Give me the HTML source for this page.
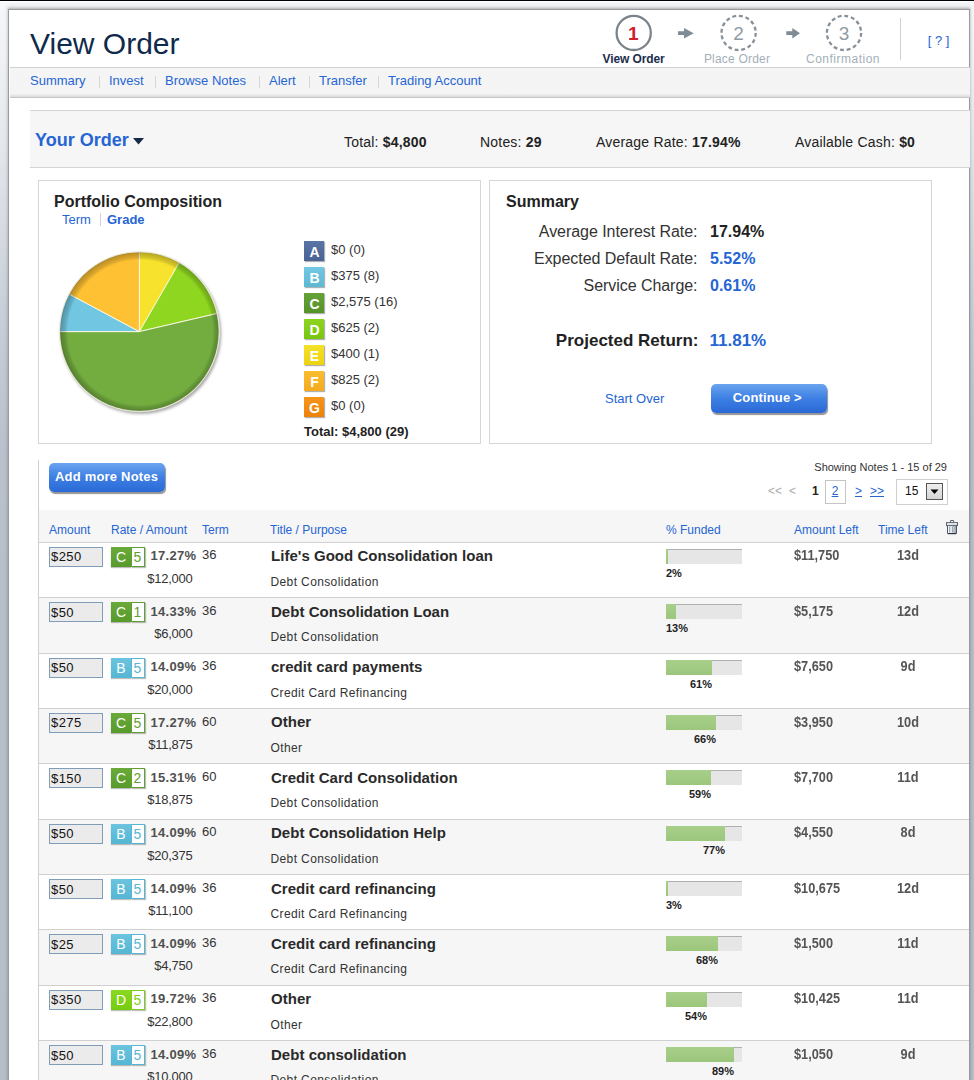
<!DOCTYPE html>
<html><head><meta charset="utf-8"><title>View Order</title>
<style>
html,body{margin:0;padding:0;}
body{width:974px;height:1080px;overflow:hidden;position:relative;font-family:"Liberation Sans", Arial, sans-serif;
background:linear-gradient(#000 0,#000 1px,#fff 1px,#fff 2px,#f6f7f9 2px,#eff1f4 60px,#e3e6eb 150px,#d3d8df 250px,#c7ced7 320px,#b9c2cd 440px,#b6bfca 600px,#b5bec9 1080px);}
.t{position:absolute;white-space:nowrap;}
.r{position:absolute;}
b{font-weight:bold;}
</style></head><body>
<div class="r" style="left:8px;top:9px;width:960px;height:1200px;background:#fff;border:1px solid #9a9a9a;box-shadow:0 -1px 2px 0 rgba(0,0,0,.22), 0 -2px 4px 1px rgba(0,0,0,.08);"></div>
<div class="t" style="top:29.00px;font-size:30px;line-height:30px;color:#0f2a4b;left:30px;">View Order</div>
<div class="r" style="left:10px;top:67px;width:960px;height:29px;border-top:1px solid #d0d0d0;background:linear-gradient(#f5f5f5,#f4f4f4 88%,#dcdcdc);box-shadow:0 1px 0 #c6c6c6;"></div>
<div class="t" style="top:74.00px;font-size:13px;line-height:13px;color:#2565d4;left:30px;">Summary</div>
<div class="t" style="top:74.00px;font-size:13px;line-height:13px;color:#2565d4;left:109px;">Invest</div>
<div class="t" style="top:74.00px;font-size:13px;line-height:13px;color:#2565d4;left:165px;">Browse Notes</div>
<div class="t" style="top:74.00px;font-size:13px;line-height:13px;color:#2565d4;left:269px;">Alert</div>
<div class="t" style="top:74.00px;font-size:13px;line-height:13px;color:#2565d4;left:319px;">Transfer</div>
<div class="t" style="top:74.00px;font-size:13px;line-height:13px;color:#2565d4;left:388px;">Trading Account</div>
<div class="r" style="left:99px;top:76px;width:1px;height:12px;background:#d6d6d6;"></div>
<div class="r" style="left:155px;top:76px;width:1px;height:12px;background:#d6d6d6;"></div>
<div class="r" style="left:259px;top:76px;width:1px;height:12px;background:#d6d6d6;"></div>
<div class="r" style="left:309px;top:76px;width:1px;height:12px;background:#d6d6d6;"></div>
<div class="r" style="left:378px;top:76px;width:1px;height:12px;background:#d6d6d6;"></div>
<div class="r" style="left:30px;top:110px;width:940px;height:56px;background:#f6f6f6;border-top:1px solid #d4d4d4;border-bottom:1px solid #d4d4d4;"></div>
<div class="t" style="top:131.00px;font-size:18px;line-height:18px;color:#2565d4;font-weight:bold;left:35px;">Your Order</div>
<svg class="r" style="left:133px;top:138px" width="11" height="7"><path d="M0 0H11L5.5 6.5Z" fill="#142a48"/></svg>
<div class="t" style="top:135.00px;font-size:14px;line-height:14px;color:#222;letter-spacing:0.2px;left:344px;">Total: <b>$4,800</b></div>
<div class="t" style="top:135.00px;font-size:14px;line-height:14px;color:#222;letter-spacing:0.2px;left:480px;">Notes: <b>29</b></div>
<div class="t" style="top:135.00px;font-size:14px;line-height:14px;color:#222;letter-spacing:0.2px;left:596px;">Average Rate: <b>17.94%</b></div>
<div class="t" style="top:135.00px;font-size:14px;line-height:14px;color:#222;letter-spacing:0.2px;left:795px;">Available Cash: <b>$0</b></div>
<div class="r" style="left:38px;top:180px;width:441px;height:262px;border:1px solid #d6d6d6;"></div>
<div class="t" style="top:194.00px;font-size:16px;line-height:16px;color:#222;font-weight:bold;left:54px;">Portfolio Composition</div>
<div class="t" style="top:213.00px;font-size:13px;line-height:13px;color:#2565d4;left:62px;">Term</div>
<div class="r" style="left:100px;top:213px;width:1px;height:13px;background:#d3d3d3;"></div>
<div class="t" style="top:213.00px;font-size:13px;line-height:13px;color:#2565d4;font-weight:bold;left:107px;">Grade</div>
<svg class="r" style="left:0;top:0" width="974" height="500">
<defs>
<radialGradient id="rim" cx="140.20000000000002" cy="332.40000000000003" r="80.3" gradientUnits="userSpaceOnUse">
<stop offset="0.90" stop-color="#000" stop-opacity="0"/>
<stop offset="0.935" stop-color="#000" stop-opacity="0.14"/>
<stop offset="0.975" stop-color="#000" stop-opacity="0.22"/>
<stop offset="1" stop-color="#000" stop-opacity="0.3"/>
</radialGradient>
<filter id="sh" x="-20%" y="-20%" width="140%" height="140%"><feGaussianBlur stdDeviation="1.6"/></filter>
</defs>
<circle cx="140.9" cy="333.6" r="80.2" fill="#000" opacity=".35" filter="url(#sh)"/>
<path d="M139.4,331.6 L139.40,251.90 A79.7,79.7 0 0 1 179.25,262.58 Z" fill="#f7e22e" stroke="#fffbe8" stroke-width="1" stroke-opacity=".9" stroke-linejoin="round"/><path d="M139.4,331.6 L179.25,262.58 A79.7,79.7 0 0 1 217.02,313.50 Z" fill="#8fd620" stroke="#fffbe8" stroke-width="1" stroke-opacity=".9" stroke-linejoin="round"/><path d="M139.4,331.6 L217.02,313.50 A79.7,79.7 0 1 1 59.70,331.60 Z" fill="#73ad3f" stroke="#fffbe8" stroke-width="1" stroke-opacity=".9" stroke-linejoin="round"/><path d="M139.4,331.6 L59.70,331.60 A79.7,79.7 0 0 1 69.11,294.03 Z" fill="#71c7e1" stroke="#fffbe8" stroke-width="1" stroke-opacity=".9" stroke-linejoin="round"/><path d="M139.4,331.6 L69.11,294.03 A79.7,79.7 0 0 1 139.40,251.90 Z" fill="#fec133" stroke="#fffbe8" stroke-width="1" stroke-opacity=".9" stroke-linejoin="round"/>
<circle cx="139.4" cy="331.6" r="79.7" fill="url(#rim)"/>
<circle cx="139.4" cy="331.6" r="80.0" fill="none" stroke="#e8ecd8" stroke-width=".8"/>
</svg>
<div class="r" style="left:304px;top:241px;width:20px;height:20px;background:linear-gradient(#5a74a6,#4a6394);box-shadow:1px 1px 1px rgba(0,0,0,.3);"></div>
<div class="t" style="top:245.00px;font-size:14px;line-height:14px;color:#fff;left:114.5px;width:400px;text-align:center;font-weight:600;">A</div>
<div class="t" style="top:243.00px;font-size:13px;line-height:13px;color:#333;left:331px;">$0 (0)</div>
<div class="r" style="left:304px;top:267px;width:20px;height:20px;background:linear-gradient(#74c8e2,#5cb8d5);box-shadow:1px 1px 1px rgba(0,0,0,.3);"></div>
<div class="t" style="top:271.00px;font-size:14px;line-height:14px;color:#fff;left:114.5px;width:400px;text-align:center;font-weight:600;">B</div>
<div class="t" style="top:269.00px;font-size:13px;line-height:13px;color:#333;left:331px;">$375 (8)</div>
<div class="r" style="left:304px;top:293px;width:20px;height:20px;background:linear-gradient(#65a338,#55922a);box-shadow:1px 1px 1px rgba(0,0,0,.3);"></div>
<div class="t" style="top:297.00px;font-size:14px;line-height:14px;color:#fff;left:114.5px;width:400px;text-align:center;font-weight:600;">C</div>
<div class="t" style="top:295.00px;font-size:13px;line-height:13px;color:#333;left:331px;">$2,575 (16)</div>
<div class="r" style="left:304px;top:319px;width:20px;height:20px;background:linear-gradient(#8dd420,#79c512);box-shadow:1px 1px 1px rgba(0,0,0,.3);"></div>
<div class="t" style="top:323.00px;font-size:14px;line-height:14px;color:#fff;left:114.5px;width:400px;text-align:center;font-weight:600;">D</div>
<div class="t" style="top:321.00px;font-size:13px;line-height:13px;color:#333;left:331px;">$625 (2)</div>
<div class="r" style="left:304px;top:345px;width:20px;height:20px;background:linear-gradient(#f4e12a,#ecd212);box-shadow:1px 1px 1px rgba(0,0,0,.3);"></div>
<div class="t" style="top:349.00px;font-size:14px;line-height:14px;color:#fff;left:114.5px;width:400px;text-align:center;font-weight:600;">E</div>
<div class="t" style="top:347.00px;font-size:13px;line-height:13px;color:#333;left:331px;">$400 (1)</div>
<div class="r" style="left:304px;top:371px;width:20px;height:20px;background:linear-gradient(#fbbd30,#f4aa1e);box-shadow:1px 1px 1px rgba(0,0,0,.3);"></div>
<div class="t" style="top:375.00px;font-size:14px;line-height:14px;color:#fff;left:114.5px;width:400px;text-align:center;font-weight:600;">F</div>
<div class="t" style="top:373.00px;font-size:13px;line-height:13px;color:#333;left:331px;">$825 (2)</div>
<div class="r" style="left:304px;top:397px;width:20px;height:20px;background:linear-gradient(#f7951a,#ec820a);box-shadow:1px 1px 1px rgba(0,0,0,.3);"></div>
<div class="t" style="top:401.00px;font-size:14px;line-height:14px;color:#fff;left:114.5px;width:400px;text-align:center;font-weight:600;">G</div>
<div class="t" style="top:399.00px;font-size:13px;line-height:13px;color:#333;left:331px;">$0 (0)</div>
<div class="t" style="top:425.00px;font-size:13px;line-height:13px;color:#222;font-weight:bold;left:304px;">Total: $4,800 (29)</div>
<div class="r" style="left:489px;top:180px;width:441px;height:262px;border:1px solid #d6d6d6;"></div>
<div class="t" style="top:194.00px;font-size:16px;line-height:16px;color:#222;font-weight:bold;left:506px;">Summary</div>
<div class="t" style="top:224.00px;font-size:16px;line-height:16px;color:#333;letter-spacing:-0.05px;right:276.5px;text-align:right;">Average Interest Rate:</div>
<div class="t" style="top:251.00px;font-size:16px;line-height:16px;color:#333;letter-spacing:-0.05px;right:276.5px;text-align:right;">Expected Default Rate:</div>
<div class="t" style="top:278.00px;font-size:16px;line-height:16px;color:#333;letter-spacing:-0.05px;right:276.5px;text-align:right;">Service Charge:</div>
<div class="t" style="top:224.00px;font-size:16px;line-height:16px;color:#222;font-weight:bold;left:710px;">17.94%</div>
<div class="t" style="top:251.00px;font-size:16px;line-height:16px;color:#2565d4;font-weight:bold;left:710px;">5.52%</div>
<div class="t" style="top:278.00px;font-size:16px;line-height:16px;color:#2565d4;font-weight:bold;left:710px;">0.61%</div>
<div class="t" style="top:332.00px;font-size:17px;line-height:17px;color:#222;font-weight:bold;right:275.5px;text-align:right;">Projected Return:</div>
<div class="t" style="top:332.00px;font-size:17px;line-height:17px;color:#2565d4;font-weight:bold;left:709.5px;">11.81%</div>
<div class="t" style="top:392.00px;font-size:13px;line-height:13px;color:#2565d4;left:605px;">Start Over</div>
<div class="r" style="left:711px;top:384px;width:116px;height:29px;border-radius:5px;background:linear-gradient(#6aa4ef,#3d7fe3 50%,#2a69d6);box-shadow:1px 2px 1px rgba(60,60,60,.55);"></div>
<div class="t" style="top:391.00px;font-size:13px;line-height:13px;color:#fff;font-weight:bold;letter-spacing:0.15px;left:567.3px;width:400px;text-align:center;">Continue &gt;</div>
<div class="r" style="left:38px;top:460px;width:1px;height:700px;background:#d0d0d0;"></div>
<div class="r" style="left:49px;top:463px;width:116px;height:29px;border-radius:5px;background:linear-gradient(#6aa4ef,#3d7fe3 50%,#2a69d6);box-shadow:1px 2px 1px rgba(60,60,60,.55);"></div>
<div class="t" style="top:470.00px;font-size:13px;line-height:13px;color:#fff;font-weight:bold;letter-spacing:0.2px;left:-93.4px;width:400px;text-align:center;">Add more Notes</div>
<div class="t" style="top:462.00px;font-size:11px;line-height:11px;color:#333;right:27px;text-align:right;">Showing Notes 1 - 15 of 29</div>
<div class="t" style="top:485.00px;font-size:12px;line-height:12px;color:#aaa;left:768px;">&lt;&lt;</div>
<div class="t" style="top:485.00px;font-size:12px;line-height:12px;color:#aaa;left:789px;">&lt;</div>
<div class="t" style="top:485.00px;font-size:12px;line-height:12px;color:#222;font-weight:bold;left:812px;">1</div>
<div class="r" style="left:825px;top:480px;width:19px;height:22px;border:1px solid #c4c4c4;"></div>
<div class="t" style="top:485.00px;font-size:12px;line-height:12px;color:#2565d4;left:635px;width:400px;text-align:center;"><u>2</u></div>
<div class="t" style="top:485.00px;font-size:12px;line-height:12px;color:#2565d4;left:855px;"><u>&gt;</u></div>
<div class="t" style="top:485.00px;font-size:12px;line-height:12px;color:#2565d4;left:870px;"><u>&gt;&gt;</u></div>
<div class="r" style="left:896px;top:479px;width:50px;height:24px;border:1px solid #cfcfcf;background:#fff;"></div>
<div class="t" style="top:485.00px;font-size:12px;line-height:12px;color:#111;left:905px;">15</div>
<div class="r" style="left:926px;top:483px;width:15px;height:15px;border:1px solid #555;background:linear-gradient(#eee,#d5d5d5);"></div>
<svg class="r" style="left:930px;top:489px" width="9" height="6"><path d="M0.5 0.5H8.5L4.5 5Z" fill="#000"/></svg>
<div class="r" style="left:39px;top:510px;width:930px;height:32px;background:#f6f6f6;border-bottom:1px solid #d0d0d0;"></div>
<div class="t" style="top:524.00px;font-size:12px;line-height:12px;color:#2565d4;left:49px;">Amount</div>
<div class="t" style="top:524.00px;font-size:12px;line-height:12px;color:#2565d4;left:111px;">Rate / Amount</div>
<div class="t" style="top:524.00px;font-size:12px;line-height:12px;color:#2565d4;left:202px;">Term</div>
<div class="t" style="top:524.00px;font-size:12px;line-height:12px;color:#2565d4;left:270px;">Title / Purpose</div>
<div class="t" style="top:524.00px;font-size:12px;line-height:12px;color:#2565d4;left:666px;">% Funded</div>
<div class="t" style="top:524.00px;font-size:12px;line-height:12px;color:#2565d4;left:794px;">Amount Left</div>
<div class="t" style="top:524.00px;font-size:12px;line-height:12px;color:#2565d4;left:878px;">Time Left</div>
<svg class="r" style="left:945px;top:519px" width="15" height="17" viewBox="0 0 15 17">
<defs><linearGradient id="tg" x1="0" x2="1"><stop offset="0" stop-color="#ffffff"/><stop offset=".5" stop-color="#e4e9f0"/><stop offset="1" stop-color="#8c96a2"/></linearGradient>
<linearGradient id="tl" x1="0" y1="0" x2="0" y2="1"><stop offset="0" stop-color="#ffffff"/><stop offset="1" stop-color="#c9d0d8"/></linearGradient></defs>
<path d="M5.6 3.2V1.5H8.6V3.2" fill="none" stroke="#5b636c" stroke-width="1"/>
<path d="M2.5 6.5V14.5H11.5V6.5" fill="url(#tg)" stroke="#4f5760" stroke-width="1"/>
<rect x="1.5" y="3.6" width="11" height="3" fill="url(#tl)" stroke="#5b636c" stroke-width="1"/>
<path d="M4.6 7.5V13.5M7.6 7.5V13.5" stroke="#9aa4b0" stroke-width="1.1"/>
<path d="M3 14.6H11" stroke="#2e343a" stroke-width="1.2"/>
</svg>
<div class="r" style="left:39px;top:543px;width:930px;height:54px;background:#fff;border-bottom:1px solid #d0d0d0;"></div>
<div class="r" style="left:49px;top:547px;width:52px;height:18px;border:1px solid #7f9db9;background:#ebebeb;"></div>
<div class="t" style="top:550.00px;font-size:13px;line-height:13px;color:#111;letter-spacing:0.4px;left:51px;">$250</div>
<div class="r" style="left:111px;top:547px;width:20px;height:20px;background:linear-gradient(#6aaa3a,#579a2b);box-shadow:0 1px 1px rgba(0,0,0,.25);"></div>
<div class="r" style="left:131px;top:547px;width:12px;height:18px;background:#fff;border:1px solid #5fa030;box-shadow:1px 1px 1px rgba(0,0,0,.25);"></div>
<div class="t" style="top:550.00px;font-size:14px;line-height:14px;color:#fff;left:-79px;width:400px;text-align:center;">C</div>
<div class="t" style="top:550.00px;font-size:14px;line-height:14px;color:#5fa030;left:-62.5px;width:400px;text-align:center;">5</div>
<div class="t" style="top:549.00px;font-size:13px;line-height:13px;color:#505050;font-weight:bold;letter-spacing:0.3px;left:150.5px;">17.27%</div>
<div class="t" style="top:572.00px;font-size:13px;line-height:13px;color:#333;letter-spacing:-0.25px;right:781.5px;text-align:right;">$12,000</div>
<div class="t" style="top:548.00px;font-size:13px;line-height:13px;color:#333;left:202px;">36</div>
<div class="t" style="top:548.00px;font-size:15px;line-height:15px;color:#2a2a2a;font-weight:bold;letter-spacing:0.03px;left:271px;">Life's Good Consolidation loan</div>
<div class="t" style="top:576.00px;font-size:12px;line-height:12px;color:#333;letter-spacing:0.38px;left:270.5px;">Debt Consolidation</div>
<div class="r" style="left:666px;top:549px;width:76px;height:15px;background:#e6e6e6;border-top:1px solid #b0b0b0;box-sizing:border-box;"></div>
<div class="r" style="left:666px;top:549px;width:2px;height:15px;background:linear-gradient(#a8cf8a,#9cc67c);"></div>
<div class="t" style="top:568.00px;font-size:11px;line-height:11px;color:#222;font-weight:bold;left:666px;">2%</div>
<div class="t" style="top:548.00px;font-size:14px;line-height:14px;color:#555;font-weight:bold;transform:scaleX(0.91);transform-origin:left center;left:794px;">$11,750</div>
<div class="t" style="top:548.00px;font-size:14px;line-height:14px;color:#555;font-weight:bold;transform:scaleX(0.91);transform-origin:center center;left:708px;width:400px;text-align:center;">13d</div>
<div class="r" style="left:39px;top:598px;width:930px;height:55px;background:#f6f6f6;border-bottom:1px solid #d0d0d0;"></div>
<div class="r" style="left:49px;top:602px;width:52px;height:18px;border:1px solid #7f9db9;background:#ebebeb;"></div>
<div class="t" style="top:606.00px;font-size:13px;line-height:13px;color:#111;letter-spacing:0.4px;left:51px;">$50</div>
<div class="r" style="left:111px;top:602px;width:20px;height:20px;background:linear-gradient(#6aaa3a,#579a2b);box-shadow:0 1px 1px rgba(0,0,0,.25);"></div>
<div class="r" style="left:131px;top:602px;width:12px;height:18px;background:#fff;border:1px solid #5fa030;box-shadow:1px 1px 1px rgba(0,0,0,.25);"></div>
<div class="t" style="top:605.00px;font-size:14px;line-height:14px;color:#fff;left:-79px;width:400px;text-align:center;">C</div>
<div class="t" style="top:605.00px;font-size:14px;line-height:14px;color:#5fa030;left:-62.5px;width:400px;text-align:center;">1</div>
<div class="t" style="top:605.00px;font-size:13px;line-height:13px;color:#505050;font-weight:bold;letter-spacing:0.3px;left:150.5px;">14.33%</div>
<div class="t" style="top:627.00px;font-size:13px;line-height:13px;color:#333;letter-spacing:-0.25px;right:781.5px;text-align:right;">$6,000</div>
<div class="t" style="top:604.00px;font-size:13px;line-height:13px;color:#333;left:202px;">36</div>
<div class="t" style="top:604.00px;font-size:15px;line-height:15px;color:#2a2a2a;font-weight:bold;letter-spacing:0.03px;left:271px;">Debt Consolidation Loan</div>
<div class="t" style="top:631.00px;font-size:12px;line-height:12px;color:#333;letter-spacing:0.38px;left:270.5px;">Debt Consolidation</div>
<div class="r" style="left:666px;top:604px;width:76px;height:15px;background:#e6e6e6;border-top:1px solid #b0b0b0;box-sizing:border-box;"></div>
<div class="r" style="left:666px;top:604px;width:10px;height:15px;background:linear-gradient(#a8cf8a,#9cc67c);"></div>
<div class="t" style="top:623.00px;font-size:11px;line-height:11px;color:#222;font-weight:bold;left:666px;">13%</div>
<div class="t" style="top:604.00px;font-size:14px;line-height:14px;color:#555;font-weight:bold;transform:scaleX(0.91);transform-origin:left center;left:794px;">$5,175</div>
<div class="t" style="top:604.00px;font-size:14px;line-height:14px;color:#555;font-weight:bold;transform:scaleX(0.91);transform-origin:center center;left:708px;width:400px;text-align:center;">12d</div>
<div class="r" style="left:39px;top:654px;width:930px;height:54px;background:#fff;border-bottom:1px solid #d0d0d0;"></div>
<div class="r" style="left:49px;top:658px;width:52px;height:18px;border:1px solid #7f9db9;background:#ebebeb;"></div>
<div class="t" style="top:661.00px;font-size:13px;line-height:13px;color:#111;letter-spacing:0.4px;left:51px;">$50</div>
<div class="r" style="left:111px;top:658px;width:20px;height:20px;background:linear-gradient(#6cc4de,#55b6d3);box-shadow:0 1px 1px rgba(0,0,0,.25);"></div>
<div class="r" style="left:131px;top:658px;width:12px;height:18px;background:#fff;border:1px solid #55b7d4;box-shadow:1px 1px 1px rgba(0,0,0,.25);"></div>
<div class="t" style="top:661.00px;font-size:14px;line-height:14px;color:#fff;left:-79px;width:400px;text-align:center;">B</div>
<div class="t" style="top:661.00px;font-size:14px;line-height:14px;color:#55b7d4;left:-62.5px;width:400px;text-align:center;">5</div>
<div class="t" style="top:660.00px;font-size:13px;line-height:13px;color:#505050;font-weight:bold;letter-spacing:0.3px;left:150.5px;">14.09%</div>
<div class="t" style="top:683.00px;font-size:13px;line-height:13px;color:#333;letter-spacing:-0.25px;right:781.5px;text-align:right;">$20,000</div>
<div class="t" style="top:659.00px;font-size:13px;line-height:13px;color:#333;left:202px;">36</div>
<div class="t" style="top:659.00px;font-size:15px;line-height:15px;color:#2a2a2a;font-weight:bold;letter-spacing:0.03px;left:271px;">credit card payments</div>
<div class="t" style="top:687.00px;font-size:12px;line-height:12px;color:#333;letter-spacing:0.38px;left:270.5px;">Credit Card Refinancing</div>
<div class="r" style="left:666px;top:660px;width:76px;height:15px;background:#e6e6e6;border-top:1px solid #b0b0b0;box-sizing:border-box;"></div>
<div class="r" style="left:666px;top:660px;width:46px;height:15px;background:linear-gradient(#a8cf8a,#9cc67c);"></div>
<div class="t" style="top:679.00px;font-size:11px;line-height:11px;color:#222;font-weight:bold;left:689.96875px;">61%</div>
<div class="t" style="top:659.00px;font-size:14px;line-height:14px;color:#555;font-weight:bold;transform:scaleX(0.91);transform-origin:left center;left:794px;">$7,650</div>
<div class="t" style="top:659.00px;font-size:14px;line-height:14px;color:#555;font-weight:bold;transform:scaleX(0.91);transform-origin:center center;left:708px;width:400px;text-align:center;">9d</div>
<div class="r" style="left:39px;top:709px;width:930px;height:54px;background:#f6f6f6;border-bottom:1px solid #d0d0d0;"></div>
<div class="r" style="left:49px;top:713px;width:52px;height:18px;border:1px solid #7f9db9;background:#ebebeb;"></div>
<div class="t" style="top:716.00px;font-size:13px;line-height:13px;color:#111;letter-spacing:0.4px;left:51px;">$275</div>
<div class="r" style="left:111px;top:713px;width:20px;height:20px;background:linear-gradient(#6aaa3a,#579a2b);box-shadow:0 1px 1px rgba(0,0,0,.25);"></div>
<div class="r" style="left:131px;top:713px;width:12px;height:18px;background:#fff;border:1px solid #5fa030;box-shadow:1px 1px 1px rgba(0,0,0,.25);"></div>
<div class="t" style="top:716.00px;font-size:14px;line-height:14px;color:#fff;left:-79px;width:400px;text-align:center;">C</div>
<div class="t" style="top:716.00px;font-size:14px;line-height:14px;color:#5fa030;left:-62.5px;width:400px;text-align:center;">5</div>
<div class="t" style="top:716.00px;font-size:13px;line-height:13px;color:#505050;font-weight:bold;letter-spacing:0.3px;left:150.5px;">17.27%</div>
<div class="t" style="top:738.00px;font-size:13px;line-height:13px;color:#333;letter-spacing:-0.25px;right:781.5px;text-align:right;">$11,875</div>
<div class="t" style="top:715.00px;font-size:13px;line-height:13px;color:#333;left:202px;">60</div>
<div class="t" style="top:714.00px;font-size:15px;line-height:15px;color:#2a2a2a;font-weight:bold;letter-spacing:0.03px;left:271px;">Other</div>
<div class="t" style="top:742.00px;font-size:12px;line-height:12px;color:#333;letter-spacing:0.38px;left:270.5px;">Other</div>
<div class="r" style="left:666px;top:715px;width:76px;height:15px;background:#e6e6e6;border-top:1px solid #b0b0b0;box-sizing:border-box;"></div>
<div class="r" style="left:666px;top:715px;width:50px;height:15px;background:linear-gradient(#a8cf8a,#9cc67c);"></div>
<div class="t" style="top:734.00px;font-size:11px;line-height:11px;color:#222;font-weight:bold;left:693.96875px;">66%</div>
<div class="t" style="top:715.00px;font-size:14px;line-height:14px;color:#555;font-weight:bold;transform:scaleX(0.91);transform-origin:left center;left:794px;">$3,950</div>
<div class="t" style="top:715.00px;font-size:14px;line-height:14px;color:#555;font-weight:bold;transform:scaleX(0.91);transform-origin:center center;left:708px;width:400px;text-align:center;">10d</div>
<div class="r" style="left:39px;top:764px;width:930px;height:55px;background:#fff;border-bottom:1px solid #d0d0d0;"></div>
<div class="r" style="left:49px;top:768px;width:52px;height:18px;border:1px solid #7f9db9;background:#ebebeb;"></div>
<div class="t" style="top:772.00px;font-size:13px;line-height:13px;color:#111;letter-spacing:0.4px;left:51px;">$150</div>
<div class="r" style="left:111px;top:768px;width:20px;height:20px;background:linear-gradient(#6aaa3a,#579a2b);box-shadow:0 1px 1px rgba(0,0,0,.25);"></div>
<div class="r" style="left:131px;top:768px;width:12px;height:18px;background:#fff;border:1px solid #5fa030;box-shadow:1px 1px 1px rgba(0,0,0,.25);"></div>
<div class="t" style="top:771.00px;font-size:14px;line-height:14px;color:#fff;left:-79px;width:400px;text-align:center;">C</div>
<div class="t" style="top:771.00px;font-size:14px;line-height:14px;color:#5fa030;left:-62.5px;width:400px;text-align:center;">2</div>
<div class="t" style="top:771.00px;font-size:13px;line-height:13px;color:#505050;font-weight:bold;letter-spacing:0.3px;left:150.5px;">15.31%</div>
<div class="t" style="top:793.00px;font-size:13px;line-height:13px;color:#333;letter-spacing:-0.25px;right:781.5px;text-align:right;">$18,875</div>
<div class="t" style="top:770.00px;font-size:13px;line-height:13px;color:#333;left:202px;">60</div>
<div class="t" style="top:770.00px;font-size:15px;line-height:15px;color:#2a2a2a;font-weight:bold;letter-spacing:0.03px;left:271px;">Credit Card Consolidation</div>
<div class="t" style="top:797.00px;font-size:12px;line-height:12px;color:#333;letter-spacing:0.38px;left:270.5px;">Debt Consolidation</div>
<div class="r" style="left:666px;top:770px;width:76px;height:15px;background:#e6e6e6;border-top:1px solid #b0b0b0;box-sizing:border-box;"></div>
<div class="r" style="left:666px;top:770px;width:45px;height:15px;background:linear-gradient(#a8cf8a,#9cc67c);"></div>
<div class="t" style="top:789.00px;font-size:11px;line-height:11px;color:#222;font-weight:bold;left:688.96875px;">59%</div>
<div class="t" style="top:770.00px;font-size:14px;line-height:14px;color:#555;font-weight:bold;transform:scaleX(0.91);transform-origin:left center;left:794px;">$7,700</div>
<div class="t" style="top:770.00px;font-size:14px;line-height:14px;color:#555;font-weight:bold;transform:scaleX(0.91);transform-origin:center center;left:708px;width:400px;text-align:center;">11d</div>
<div class="r" style="left:39px;top:820px;width:930px;height:54px;background:#f6f6f6;border-bottom:1px solid #d0d0d0;"></div>
<div class="r" style="left:49px;top:824px;width:52px;height:18px;border:1px solid #7f9db9;background:#ebebeb;"></div>
<div class="t" style="top:827.00px;font-size:13px;line-height:13px;color:#111;letter-spacing:0.4px;left:51px;">$50</div>
<div class="r" style="left:111px;top:824px;width:20px;height:20px;background:linear-gradient(#6cc4de,#55b6d3);box-shadow:0 1px 1px rgba(0,0,0,.25);"></div>
<div class="r" style="left:131px;top:824px;width:12px;height:18px;background:#fff;border:1px solid #55b7d4;box-shadow:1px 1px 1px rgba(0,0,0,.25);"></div>
<div class="t" style="top:827.00px;font-size:14px;line-height:14px;color:#fff;left:-79px;width:400px;text-align:center;">B</div>
<div class="t" style="top:827.00px;font-size:14px;line-height:14px;color:#55b7d4;left:-62.5px;width:400px;text-align:center;">5</div>
<div class="t" style="top:826.00px;font-size:13px;line-height:13px;color:#505050;font-weight:bold;letter-spacing:0.3px;left:150.5px;">14.09%</div>
<div class="t" style="top:849.00px;font-size:13px;line-height:13px;color:#333;letter-spacing:-0.25px;right:781.5px;text-align:right;">$20,375</div>
<div class="t" style="top:825.00px;font-size:13px;line-height:13px;color:#333;left:202px;">60</div>
<div class="t" style="top:825.00px;font-size:15px;line-height:15px;color:#2a2a2a;font-weight:bold;letter-spacing:0.03px;left:271px;">Debt Consolidation Help</div>
<div class="t" style="top:853.00px;font-size:12px;line-height:12px;color:#333;letter-spacing:0.38px;left:270.5px;">Debt Consolidation</div>
<div class="r" style="left:666px;top:826px;width:76px;height:15px;background:#e6e6e6;border-top:1px solid #b0b0b0;box-sizing:border-box;"></div>
<div class="r" style="left:666px;top:826px;width:59px;height:15px;background:linear-gradient(#a8cf8a,#9cc67c);"></div>
<div class="t" style="top:845.00px;font-size:11px;line-height:11px;color:#222;font-weight:bold;left:702.96875px;">77%</div>
<div class="t" style="top:825.00px;font-size:14px;line-height:14px;color:#555;font-weight:bold;transform:scaleX(0.91);transform-origin:left center;left:794px;">$4,550</div>
<div class="t" style="top:825.00px;font-size:14px;line-height:14px;color:#555;font-weight:bold;transform:scaleX(0.91);transform-origin:center center;left:708px;width:400px;text-align:center;">8d</div>
<div class="r" style="left:39px;top:875px;width:930px;height:54px;background:#fff;border-bottom:1px solid #d0d0d0;"></div>
<div class="r" style="left:49px;top:879px;width:52px;height:18px;border:1px solid #7f9db9;background:#ebebeb;"></div>
<div class="t" style="top:883.00px;font-size:13px;line-height:13px;color:#111;letter-spacing:0.4px;left:51px;">$50</div>
<div class="r" style="left:111px;top:879px;width:20px;height:20px;background:linear-gradient(#6cc4de,#55b6d3);box-shadow:0 1px 1px rgba(0,0,0,.25);"></div>
<div class="r" style="left:131px;top:879px;width:12px;height:18px;background:#fff;border:1px solid #55b7d4;box-shadow:1px 1px 1px rgba(0,0,0,.25);"></div>
<div class="t" style="top:882.00px;font-size:14px;line-height:14px;color:#fff;left:-79px;width:400px;text-align:center;">B</div>
<div class="t" style="top:882.00px;font-size:14px;line-height:14px;color:#55b7d4;left:-62.5px;width:400px;text-align:center;">5</div>
<div class="t" style="top:882.00px;font-size:13px;line-height:13px;color:#505050;font-weight:bold;letter-spacing:0.3px;left:150.5px;">14.09%</div>
<div class="t" style="top:904.00px;font-size:13px;line-height:13px;color:#333;letter-spacing:-0.25px;right:781.5px;text-align:right;">$11,100</div>
<div class="t" style="top:881.00px;font-size:13px;line-height:13px;color:#333;left:202px;">36</div>
<div class="t" style="top:881.00px;font-size:15px;line-height:15px;color:#2a2a2a;font-weight:bold;letter-spacing:0.03px;left:271px;">Credit card refinancing</div>
<div class="t" style="top:908.00px;font-size:12px;line-height:12px;color:#333;letter-spacing:0.38px;left:270.5px;">Credit Card Refinancing</div>
<div class="r" style="left:666px;top:881px;width:76px;height:15px;background:#e6e6e6;border-top:1px solid #b0b0b0;box-sizing:border-box;"></div>
<div class="r" style="left:666px;top:881px;width:2px;height:15px;background:linear-gradient(#a8cf8a,#9cc67c);"></div>
<div class="t" style="top:900.00px;font-size:11px;line-height:11px;color:#222;font-weight:bold;left:666px;">3%</div>
<div class="t" style="top:881.00px;font-size:14px;line-height:14px;color:#555;font-weight:bold;transform:scaleX(0.91);transform-origin:left center;left:794px;">$10,675</div>
<div class="t" style="top:881.00px;font-size:14px;line-height:14px;color:#555;font-weight:bold;transform:scaleX(0.91);transform-origin:center center;left:708px;width:400px;text-align:center;">12d</div>
<div class="r" style="left:39px;top:930px;width:930px;height:55px;background:#f6f6f6;border-bottom:1px solid #d0d0d0;"></div>
<div class="r" style="left:49px;top:934px;width:52px;height:18px;border:1px solid #7f9db9;background:#ebebeb;"></div>
<div class="t" style="top:938.00px;font-size:13px;line-height:13px;color:#111;letter-spacing:0.4px;left:51px;">$25</div>
<div class="r" style="left:111px;top:934px;width:20px;height:20px;background:linear-gradient(#6cc4de,#55b6d3);box-shadow:0 1px 1px rgba(0,0,0,.25);"></div>
<div class="r" style="left:131px;top:934px;width:12px;height:18px;background:#fff;border:1px solid #55b7d4;box-shadow:1px 1px 1px rgba(0,0,0,.25);"></div>
<div class="t" style="top:937.00px;font-size:14px;line-height:14px;color:#fff;left:-79px;width:400px;text-align:center;">B</div>
<div class="t" style="top:937.00px;font-size:14px;line-height:14px;color:#55b7d4;left:-62.5px;width:400px;text-align:center;">5</div>
<div class="t" style="top:937.00px;font-size:13px;line-height:13px;color:#505050;font-weight:bold;letter-spacing:0.3px;left:150.5px;">14.09%</div>
<div class="t" style="top:959.00px;font-size:13px;line-height:13px;color:#333;letter-spacing:-0.25px;right:781.5px;text-align:right;">$4,750</div>
<div class="t" style="top:936.00px;font-size:13px;line-height:13px;color:#333;left:202px;">36</div>
<div class="t" style="top:936.00px;font-size:15px;line-height:15px;color:#2a2a2a;font-weight:bold;letter-spacing:0.03px;left:271px;">Credit card refinancing</div>
<div class="t" style="top:963.00px;font-size:12px;line-height:12px;color:#333;letter-spacing:0.38px;left:270.5px;">Credit Card Refinancing</div>
<div class="r" style="left:666px;top:936px;width:76px;height:15px;background:#e6e6e6;border-top:1px solid #b0b0b0;box-sizing:border-box;"></div>
<div class="r" style="left:666px;top:936px;width:52px;height:15px;background:linear-gradient(#a8cf8a,#9cc67c);"></div>
<div class="t" style="top:955.00px;font-size:11px;line-height:11px;color:#222;font-weight:bold;left:695.96875px;">68%</div>
<div class="t" style="top:936.00px;font-size:14px;line-height:14px;color:#555;font-weight:bold;transform:scaleX(0.91);transform-origin:left center;left:794px;">$1,500</div>
<div class="t" style="top:936.00px;font-size:14px;line-height:14px;color:#555;font-weight:bold;transform:scaleX(0.91);transform-origin:center center;left:708px;width:400px;text-align:center;">11d</div>
<div class="r" style="left:39px;top:986px;width:930px;height:54px;background:#fff;border-bottom:1px solid #d0d0d0;"></div>
<div class="r" style="left:49px;top:990px;width:52px;height:18px;border:1px solid #7f9db9;background:#ebebeb;"></div>
<div class="t" style="top:993.00px;font-size:13px;line-height:13px;color:#111;letter-spacing:0.4px;left:51px;">$350</div>
<div class="r" style="left:111px;top:990px;width:20px;height:20px;background:linear-gradient(#8bd820,#76cb10);box-shadow:0 1px 1px rgba(0,0,0,.25);"></div>
<div class="r" style="left:131px;top:990px;width:12px;height:18px;background:#fff;border:1px solid #7ccf16;box-shadow:1px 1px 1px rgba(0,0,0,.25);"></div>
<div class="t" style="top:993.00px;font-size:14px;line-height:14px;color:#fff;left:-79px;width:400px;text-align:center;">D</div>
<div class="t" style="top:993.00px;font-size:14px;line-height:14px;color:#7ccf16;left:-62.5px;width:400px;text-align:center;">5</div>
<div class="t" style="top:992.00px;font-size:13px;line-height:13px;color:#505050;font-weight:bold;letter-spacing:0.3px;left:150.5px;">19.72%</div>
<div class="t" style="top:1015.00px;font-size:13px;line-height:13px;color:#333;letter-spacing:-0.25px;right:781.5px;text-align:right;">$22,800</div>
<div class="t" style="top:991.00px;font-size:13px;line-height:13px;color:#333;left:202px;">36</div>
<div class="t" style="top:991.00px;font-size:15px;line-height:15px;color:#2a2a2a;font-weight:bold;letter-spacing:0.03px;left:271px;">Other</div>
<div class="t" style="top:1019.00px;font-size:12px;line-height:12px;color:#333;letter-spacing:0.38px;left:270.5px;">Other</div>
<div class="r" style="left:666px;top:992px;width:76px;height:15px;background:#e6e6e6;border-top:1px solid #b0b0b0;box-sizing:border-box;"></div>
<div class="r" style="left:666px;top:992px;width:41px;height:15px;background:linear-gradient(#a8cf8a,#9cc67c);"></div>
<div class="t" style="top:1011.00px;font-size:11px;line-height:11px;color:#222;font-weight:bold;left:684.96875px;">54%</div>
<div class="t" style="top:991.00px;font-size:14px;line-height:14px;color:#555;font-weight:bold;transform:scaleX(0.91);transform-origin:left center;left:794px;">$10,425</div>
<div class="t" style="top:991.00px;font-size:14px;line-height:14px;color:#555;font-weight:bold;transform:scaleX(0.91);transform-origin:center center;left:708px;width:400px;text-align:center;">11d</div>
<div class="r" style="left:39px;top:1041px;width:930px;height:55px;background:#f6f6f6;border-bottom:1px solid #d0d0d0;"></div>
<div class="r" style="left:49px;top:1045px;width:52px;height:18px;border:1px solid #7f9db9;background:#ebebeb;"></div>
<div class="t" style="top:1049.00px;font-size:13px;line-height:13px;color:#111;letter-spacing:0.4px;left:51px;">$50</div>
<div class="r" style="left:111px;top:1045px;width:20px;height:20px;background:linear-gradient(#6cc4de,#55b6d3);box-shadow:0 1px 1px rgba(0,0,0,.25);"></div>
<div class="r" style="left:131px;top:1045px;width:12px;height:18px;background:#fff;border:1px solid #55b7d4;box-shadow:1px 1px 1px rgba(0,0,0,.25);"></div>
<div class="t" style="top:1048.00px;font-size:14px;line-height:14px;color:#fff;left:-79px;width:400px;text-align:center;">B</div>
<div class="t" style="top:1048.00px;font-size:14px;line-height:14px;color:#55b7d4;left:-62.5px;width:400px;text-align:center;">5</div>
<div class="t" style="top:1048.00px;font-size:13px;line-height:13px;color:#505050;font-weight:bold;letter-spacing:0.3px;left:150.5px;">14.09%</div>
<div class="t" style="top:1070.00px;font-size:13px;line-height:13px;color:#333;letter-spacing:-0.25px;right:781.5px;text-align:right;">$10,000</div>
<div class="t" style="top:1047.00px;font-size:13px;line-height:13px;color:#333;left:202px;">36</div>
<div class="t" style="top:1047.00px;font-size:15px;line-height:15px;color:#2a2a2a;font-weight:bold;letter-spacing:0.03px;left:271px;">Debt consolidation</div>
<div class="t" style="top:1074.00px;font-size:12px;line-height:12px;color:#333;letter-spacing:0.38px;left:270.5px;">Debt Consolidation</div>
<div class="r" style="left:666px;top:1047px;width:76px;height:15px;background:#e6e6e6;border-top:1px solid #b0b0b0;box-sizing:border-box;"></div>
<div class="r" style="left:666px;top:1047px;width:68px;height:15px;background:linear-gradient(#a8cf8a,#9cc67c);"></div>
<div class="t" style="top:1066.00px;font-size:11px;line-height:11px;color:#222;font-weight:bold;left:711.96875px;">89%</div>
<div class="t" style="top:1047.00px;font-size:14px;line-height:14px;color:#555;font-weight:bold;transform:scaleX(0.91);transform-origin:left center;left:794px;">$1,050</div>
<div class="t" style="top:1047.00px;font-size:14px;line-height:14px;color:#555;font-weight:bold;transform:scaleX(0.91);transform-origin:center center;left:708px;width:400px;text-align:center;">9d</div>
<svg class="r" style="left:590px;top:10px" width="300" height="60" viewBox="590 10 300 60">
<circle cx="633.7" cy="32.9" r="17.1" fill="none" stroke="#7b848b" stroke-width="2.3"/>
<circle cx="738.6" cy="32.9" r="17.1" fill="none" stroke="#87919a" stroke-width="2.3" stroke-dasharray="3.9 2.8"/>
<circle cx="844" cy="32.9" r="17.1" fill="none" stroke="#87919a" stroke-width="2.3" stroke-dasharray="3.9 2.8"/>
<path d="M678 31.2H684V28.1L693.7 33.3L684 38.5V34.9H678Z" fill="#7f8b95"/>
<path d="M786.3 31.2H792.3V28.1L800 33.3L792.3 38.5V34.9H786.3Z" fill="#7f8b95"/>
</svg>
<div class="t" style="top:24.00px;font-size:19px;line-height:19px;color:#d0202e;font-weight:bold;left:433.29999999999995px;width:400px;text-align:center;">1</div>
<div class="t" style="top:24.00px;font-size:19px;line-height:19px;color:#8f9aa1;left:538.6px;width:400px;text-align:center;">2</div>
<div class="t" style="top:24.00px;font-size:19px;line-height:19px;color:#8f9aa1;left:644px;width:400px;text-align:center;">3</div>
<div class="t" style="top:53.00px;font-size:12px;line-height:12px;color:#1b2d4b;font-weight:bold;letter-spacing:-0.1px;left:433.6px;width:400px;text-align:center;">View Order</div>
<div class="t" style="top:53.00px;font-size:12px;line-height:12px;color:#a3afb8;letter-spacing:0.2px;left:537px;width:400px;text-align:center;font-weight:500;">Place Order</div>
<div class="t" style="top:53.00px;font-size:12px;line-height:12px;color:#a3afb8;letter-spacing:0.5px;left:643px;width:400px;text-align:center;">Confirmation</div>
<div class="r" style="left:900px;top:18px;width:1px;height:42px;background:#d0d0d0;"></div>
<div class="t" style="top:34.00px;font-size:13px;line-height:13px;color:#2565d4;left:738.6px;width:400px;text-align:center;">[ ? ]</div>
</body></html>
